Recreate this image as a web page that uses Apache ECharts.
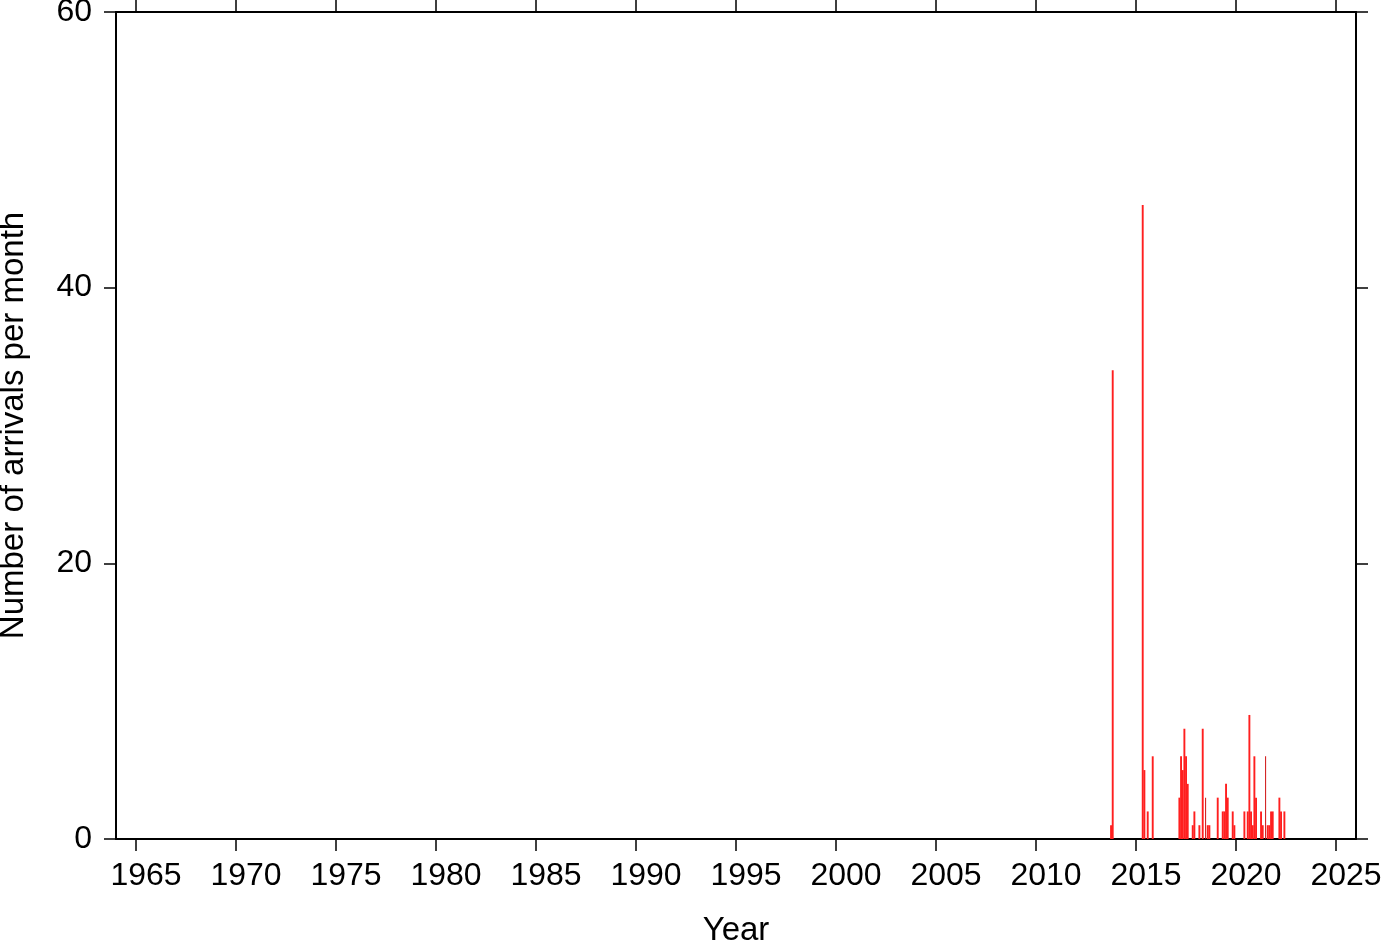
<!DOCTYPE html>
<html>
<head>
<meta charset="utf-8">
<script src="https://cdn.jsdelivr.net/npm/echarts@6/dist/echarts.min.js"></script>
<style>
html,body{margin:0;padding:0;background:#fff;}
#chart{width:1382px;height:942px;}
</style>
</head>
<body>
<div id="chart"></div>
<script>
// Monthly arrival counts (month, count)
const months = ['2013-10','2013-11','2015-05','2015-06','2015-08','2015-11',
  '2017-03','2017-04','2017-05','2017-06','2017-07','2017-08','2017-11','2017-12',
  '2018-03','2018-05','2018-08','2018-09',
  '2019-02','2019-05','2019-06','2019-07','2019-08','2019-11','2019-12',
  '2020-06','2020-08','2020-09','2020-10','2020-11','2020-12',
  '2021-01','2021-04','2021-05','2021-08','2021-09','2021-10','2021-11',
  '2022-03','2022-04','2022-06'];
const counts = [1,34,46,5,2,6,
  3,6,5,8,6,4,1,2,
  1,8,1,1,
  3,2,2,4,3,2,1,
  2,2,9,2,1,6,
  3,2,1,1,1,2,2,
  3,2,2];
// narrow (hairline) bars
const thinMonths = ['2018-07','2021-07'];
const thinCounts = [3,6];

const yearTicks = [1965,1970,1975,1980,1985,1990,1995,2000,2005,2010,2015,2020,2025];
const yTicks = [0,20,40,60];

function toYear(m){ const p=m.split('-'); return +p[0] + (+p[1]-1)/12 - 0.02; }
const mainData = months.map((m,i)=>[toYear(m), counts[i]]);
const thinData = thinMonths.map((m,i)=>[toYear(m), thinCounts[i]]);

const FONT = 'Liberation Sans, Arial, Helvetica, sans-serif';
const chart = echarts.init(document.getElementById('chart'), null, {renderer:'canvas'});
const lineStyle = {color:'#000', width:2};
const tickStyle = {color:'#000', width:1.5};
chart.setOption({
  backgroundColor:'#fff',
  animation:false,
  grid:{left:116, right:26, top:12, bottom:103, containLabel:false, outerBoundsMode:'none'},
  xAxis:[{
    type:'value', min:1964, max:2026, position:'bottom',
    name:'Year', nameLocation:'middle', nameGap:75,
    nameTextStyle:{fontFamily:FONT, fontSize:33, color:'#000'},
    axisLine:{show:true, onZero:false, lineStyle},
    axisTick:{show:true, inside:false, length:12, lineStyle:tickStyle, customValues:yearTicks},
    axisLabel:{show:true, margin:21, fontFamily:FONT, fontSize:32, color:'#000', customValues:yearTicks,
      formatter:v=>String(v), padding:[0,0,0,20]},
    splitLine:{show:false}
  },{
    type:'value', min:1964, max:2026, position:'top',
    axisLine:{show:true, onZero:false, lineStyle},
    axisTick:{show:true, inside:false, length:12, lineStyle:tickStyle, customValues:yearTicks},
    axisLabel:{show:false},
    splitLine:{show:false}
  }],
  yAxis:[{
    type:'value', min:0, max:60, interval:20, position:'left',
    name:'Number of arrivals per month', nameLocation:'middle', nameGap:86,
    nameTextStyle:{fontFamily:FONT, fontSize:33, color:'#000'},
    axisLine:{show:true, onZero:false, lineStyle},
    axisTick:{show:true, inside:false, length:12, lineStyle:tickStyle},
    axisLabel:{show:true, margin:24, fontFamily:FONT, fontSize:32, color:'#000', padding:[3,0,0,0]},
    splitLine:{show:false}
  },{
    type:'value', min:0, max:60, interval:20, position:'right',
    axisLine:{show:true, onZero:false, lineStyle},
    axisTick:{show:true, inside:false, length:12, lineStyle:tickStyle},
    axisLabel:{show:false},
    splitLine:{show:false}
  }],
  series:[{
    type:'bar', xAxisIndex:0, yAxisIndex:0, data:mainData,
    barWidth:1.9, barGap:'-100%',
    itemStyle:{color:'#ff1f1f'}, silent:true
  },{
    type:'bar', xAxisIndex:0, yAxisIndex:0, data:thinData,
    barWidth:1, barGap:'-100%',
    itemStyle:{color:'#d01010'}, silent:true
  }]
});
</script>
</body>
</html>
